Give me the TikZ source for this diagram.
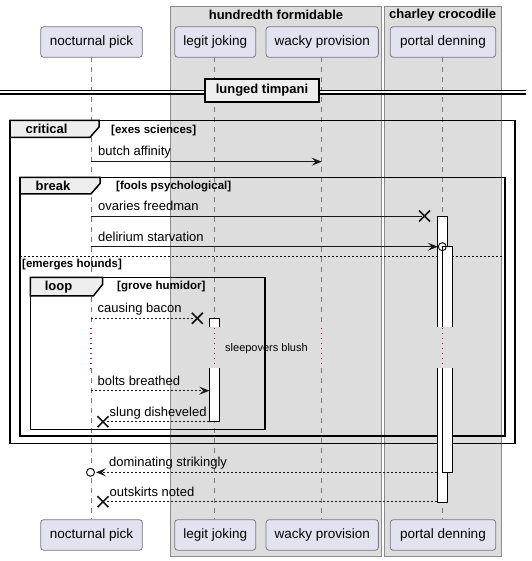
\documentclass[tikz,border=0pt]{standalone}
\usepackage{fontspec}
\setmainfont{Liberation Sans}
\usetikzlibrary{arrows.meta}
\definecolor{partfill}{HTML}{E2E2F0}
\definecolor{partline}{HTML}{7A7A84}
\definecolor{boxfill}{HTML}{DDDDDD}
\definecolor{boxline}{HTML}{8C8C8C}
\definecolor{tabfill}{HTML}{EEEEEE}
\definecolor{ink}{HTML}{181818}
\definecolor{lifegray}{HTML}{7A7A7A}
\definecolor{delayred}{HTML}{C8103E}
\tikzset{
  actor/.style={draw=partline, line width=0.8pt, fill=partfill, rounded corners=3pt,
    minimum height=30.6pt, inner sep=0pt, font=\fontsize{13.5}{16}\selectfont},
  grpbox/.style={draw=boxline, line width=0.9pt, fill=boxfill},
  grptitle/.style={inner sep=0pt, font=\fontsize{13}{15}\selectfont\bfseries},
  lifeline/.style={draw=lifegray, line width=0.7pt, dash pattern=on 5pt off 5pt},
  delayline/.style={draw=delayred, line width=1.2pt, dash pattern=on 1.2pt off 3.8pt},
  framebox/.style={draw=black, line width=1.5pt},
  tabshape/.style={draw=black, line width=1.5pt, fill=tabfill},
  framelabel/.style={inner sep=0pt, font=\fontsize{13}{15}\selectfont\bfseries},
  guard/.style={inner sep=0pt, anchor=west, font=\fontsize{11.5}{13}\selectfont\bfseries},
  msg/.style={draw=ink, line width=1pt},
  reply/.style={draw=ink, line width=1pt, dash pattern=on 2pt off 2pt},
  head/.style={-{Stealth[length=10pt, width=8pt, inset=4pt]}},
  lbl/.style={inner sep=0pt, anchor=base west, font=\fontsize{13}{15}\selectfont},
  act/.style={fill=white},
  actedge/.style={draw=black, line width=1pt},
  xcross/.pic={\draw[ink, line width=1.7pt] (-5.5,-5.5) -- (5.5,5.5) (-5.5,5.5) -- (5.5,-5.5);},
  ocircle/.style={draw=ink, line width=1pt, fill=white}
}
\begin{document}
\begin{tikzpicture}[x=1pt, y=-1pt]
\useasboundingbox (0,0) rectangle (531,561);

% participant groups
\draw[grpbox] (170.3,6) rectangle (381.7,556);
\draw[grpbox] (384.3,6) rectangle (501,556);
\node[grptitle] (g1) at (276,15) {hundredth formidable};
\node[grptitle] (g2) at (442.6,15) {charley crocodile};

% lifelines, dotted in red across the delay
\foreach \x in {91,214.3,321.7,442.3} {
  \draw[lifeline] (\x,57.3) -- (\x,326.7);
  \draw[delayline] (\x,327.5) -- (\x,368.3);
  \draw[lifeline] (\x,368.3) -- (\x,519.3);
}

% divider
\fill[white] (0,90.7) rectangle (526,94);
\draw[black, line width=1.2pt] (0,90.7) -- (526,90.7) (0,94) -- (526,94);
\node[draw=black, line width=2pt, fill=tabfill, minimum width=114pt, minimum height=23.3pt,
  inner sep=0pt, font=\fontsize{13}{15}\selectfont\bfseries] (div) at (262,90.35) {lunged timpani};

% critical frame
\draw[framebox] (10.2,120.5) rectangle (515,443.5);
\filldraw[tabshape] (10.2,120.5) -- (99,120.5) -- (99,127) -- (90,137.3) -- (10.2,137.3) -- cycle;
\node[framelabel] (fcrit) at (46.5,129.3) {critical};
\node[guard] (gcrit) at (111,130.2) {[exes sciences]};

% break frame
\draw[framebox] (20,177.3) rectangle (505,436);
\filldraw[tabshape] (20,177.3) -- (100,177.3) -- (100,183.5) -- (91,193.8) -- (20,193.8) -- cycle;
\node[framelabel] (fbrk) at (53,186) {break};
\node[guard] (gbrk) at (116,186.3) {[fools psychological]};
\draw[black, line width=0.8pt, dash pattern=on 2pt off 2pt] (20,256.7) -- (505,256.7);
\node[guard] (gelse) at (22,264.5) {[emerges hounds]};

% loop frame
\draw[framebox] (30.3,277.3) rectangle (265,429.3);
\filldraw[tabshape] (30.3,277.3) -- (102.5,277.3) -- (102.5,284.5) -- (93.5,295.8) -- (30.3,295.8) -- cycle;
\node[framelabel] (floop) at (58.5,286.8) {loop};
\node[guard] (gloop) at (117,287) {[grove humidor]};

% activation on legit joking
\fill[act] (209.3,318.3) rectangle (219.3,326.7);
\fill[act] (209.3,368.3) rectangle (219.3,421.7);
\draw[actedge] (209.3,326.7) -- (209.3,318.3) -- (219.3,318.3) -- (219.3,326.7);
\draw[actedge] (209.3,368.3) -- (209.3,421.7) -- (219.3,421.7) -- (219.3,368.3);

% activations on portal denning
\fill[act] (437.3,216) rectangle (447.3,326.7);
\fill[act] (437.3,368.3) rectangle (447.3,502);
\draw[actedge] (437.3,326.7) -- (437.3,216) -- (447.3,216) -- (447.3,326.7);
\draw[actedge] (437.3,368.3) -- (437.3,502) -- (447.3,502) -- (447.3,368.3);
\fill[act] (442.3,246.7) rectangle (452.3,326.7);
\fill[act] (442.3,368.3) rectangle (452.3,472.3);
\draw[actedge] (442.3,326.7) -- (442.3,246.7) -- (452.3,246.7) -- (452.3,326.7);
\draw[actedge] (442.3,368.3) -- (442.3,472.3) -- (452.3,472.3) -- (452.3,368.3);

% delay note
\node[inner sep=0pt, anchor=west, font=\fontsize{11}{13}\selectfont] (delay) at (225,348.3) {sleepovers blush};

% messages
\coordinate (m1a) at (91,161.7);   \coordinate (m1b) at (321.7,161.7);
\draw[msg, head] (m1a) -- (m1b);
\node[lbl] (l1) at (98,156) {butch affinity};

\coordinate (m2a) at (91,216);     \coordinate (m2b) at (424.5,216);
\draw[msg] (m2a) -- ([xshift=-3pt]m2b);
\pic at (m2b) {xcross};
\node[lbl] (l2) at (98,210.3) {ovaries freedman};

\coordinate (m3a) at (91,246.7);   \coordinate (m3b) at (437.8,246.7);
\coordinate (m3o) at (442.3,246.7);
\draw[msg, head] (m3a) -- (m3b);
\draw[ocircle, fill=none] (m3o) circle[radius=4pt];
\node[lbl] (l3) at (98,241) {delirium starvation};

\coordinate (m4a) at (91,318.3);   \coordinate (m4b) at (197.3,318.3);
\draw[reply] (m4a) -- ([xshift=-3pt]m4b);
\pic at (m4b) {xcross};
\node[lbl] (l4) at (97.5,312.8) {causing bacon};

\coordinate (m5a) at (91,390.7);   \coordinate (m5b) at (209.3,390.7);
\draw[reply, head] (m5a) -- (m5b);
\node[lbl] (l5) at (97.5,385.2) {bolts breathed};

\coordinate (m6a) at (209.3,421.7); \coordinate (m6b) at (103,421.7);
\draw[reply] (m6a) -- ([xshift=3pt]m6b);
\pic at (m6b) {xcross};
\node[lbl] (l6) at (109.5,416) {slung disheveled};

\coordinate (m7a) at (437.3,472.3); \coordinate (m7b) at (96,472.3);
\coordinate (m7o) at (90.5,472.3);
\draw[reply, head] (m7a) -- (m7b);
\draw[ocircle] (m7o) circle[radius=4pt];
\node[lbl] (l7) at (109,466.6) {dominating strikingly};

\coordinate (m8a) at (437.3,501.7); \coordinate (m8b) at (103,501.7);
\draw[reply] (m8a) -- ([xshift=3pt]m8b);
\pic at (m8b) {xcross};
\node[lbl] (l8) at (109.5,496) {outskirts noted};

% participants, top and bottom
\node[actor, minimum width=101.6pt] (pA) at (91.5,42) {nocturnal pick};
\node[actor, minimum width=81pt] (pB) at (215.2,42) {legit joking};
\node[actor, minimum width=112.3pt] (pC) at (322.2,42) {wacky provision};
\node[actor, minimum width=105.4pt] (pD) at (443,42) {portal denning};
\node[actor, minimum width=101.6pt] (qA) at (91.5,535) {nocturnal pick};
\node[actor, minimum width=81pt] (qB) at (215.2,535) {legit joking};
\node[actor, minimum width=112.3pt] (qC) at (322.2,535) {wacky provision};
\node[actor, minimum width=105.4pt] (qD) at (443,535) {portal denning};
\end{tikzpicture}
\end{document}
